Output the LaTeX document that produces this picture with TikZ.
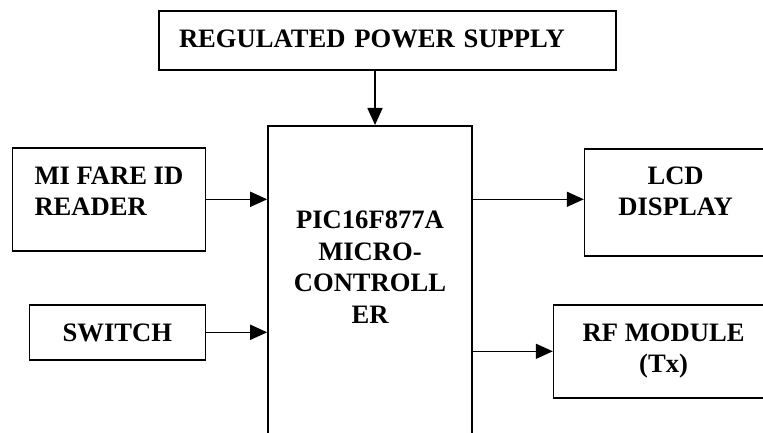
\documentclass[tikz,border=0pt]{standalone}
\usepackage{fontspec}
\setmainfont{Liberation Serif}
\usepackage{xcolor}
\usepackage{tikz}
\usetikzlibrary{positioning}
\usetikzlibrary{arrows.meta}
\tikzset{edge/.style = {-{Triangle[length=17pt,width=15pt]}}}

\begin{document}
\begin{tikzpicture}[x=1pt,y=1pt,line width=1.6pt,block/.style={rectangle,draw,inner ysep=0pt,inner xsep=0pt,font=\bfseries\fontsize{26.6}{31.5}\selectfont}]
            \clip (0,0) rectangle (763,-433);

            \node[block,anchor=north,align=center,minimum width=204pt,text height=197.5pt,text depth=155.5pt] (mc) at (370,-125) {PIC16F877A\\MICRO-\\CONTROLL\\ER};
            \node[block,align=left,inner xsep=20pt,text width=417pt,text height=36pt,text depth=23pt,above=54pt of mc.north,xshift=17.5pt] (power) {REGULATED POWER SUPPLY};
            \node[block,align=left,minimum width=193pt,text height=68pt,text depth=35pt,below left=22pt and 61pt of mc.north west] (reader) {MI FARE ID\\READER};
            \node[block,align=center,minimum width=176pt,text height=37pt,text depth=18pt,below left=179pt and 61pt of mc.north west] (switch) {SWITCH};
            \node[block,align=center,minimum width=182pt,text height=67pt,text depth=40pt,below right=23pt and 111pt of mc.north east] (lcd) {LCD\\DISPLAY};
            \node[block,align=center,minimum width=220pt,text height=68pt,text depth=25pt,below right=179pt and 80pt of mc.north east] (rf) {RF MODULE\\(Tx)};

            \draw[edge] ([xshift=5pt]mc.north |- power.south) -- ([xshift=5pt]mc.north);
            \draw[edge] (reader.east) -- (reader.east -| mc.west);
            \draw[edge] (switch.east) -- (switch.east -| mc.west);
            \draw[edge] (reader.east -| mc.east) -- (reader.east -| lcd.west);
            \draw[edge] (mc.east |- rf.west) -- (rf.west);
        \end{tikzpicture}
\end{document}
